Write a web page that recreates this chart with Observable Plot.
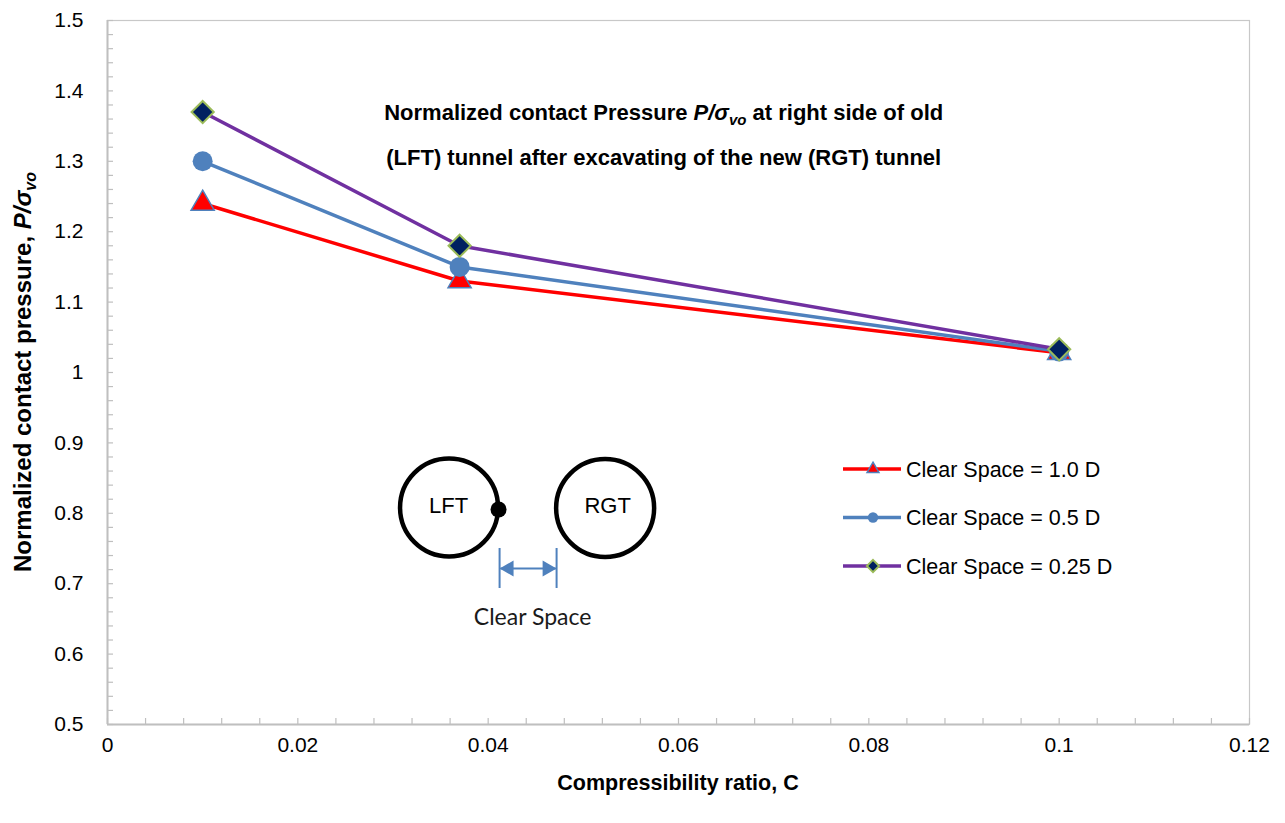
<!DOCTYPE html>
<html>
<head>
<meta charset="utf-8">
<script src="https://cdn.jsdelivr.net/npm/d3@7"></script>
<script src="https://cdn.jsdelivr.net/npm/@observablehq/plot@0.6"></script>
<style>
  body { margin: 0; background: #fff; }
  #chart { position: relative; width: 1285px; height: 823px; }
</style>
</head>
<body>
<div id="chart"></div>
<script>
// ---------------- data ----------------
const compressibility = [0.01, 0.037, 0.1];
const seriesNames = ["Clear Space = 1.0 D", "Clear Space = 0.5 D", "Clear Space = 0.25 D"];
const pressure10D  = [1.24, 1.13, 1.028];
const pressure05D  = [1.30, 1.15, 1.030];
const pressure025D = [1.37, 1.18, 1.033];

const xTicks = [0, 0.02, 0.04, 0.06, 0.08, 0.1, 0.12];
const yTicks = [0.5, 0.6, 0.7, 0.8, 0.9, 1, 1.1, 1.2, 1.3, 1.4, 1.5];
const xMinorTicks = d3.range(0, 0.1201, 0.004);
const yMinorTicks = d3.range(0.5, 1.5001, 0.02);

const xLabel = "Compressibility ratio, C";
const yLabelMain = "Normalized contact pressure, ";
const titleLine1 = ["Normalized contact Pressure ", "P/σ", "vo", " at right side of old"];
const titleLine2 = "(LFT) tunnel after excavating of the new (RGT) tunnel";

// inset sketch annotation (data coordinates)
const tunnels = [
  {x: 0.03589, y: 0.8082, label: "LFT"},
  {x: 0.05229, y: 0.8075, label: "RGT"}
];
const tunnelLabels = [
  {x: 0.03584, y: 0.8111, label: "LFT"},
  {x: 0.05256, y: 0.8111, label: "RGT"}
];
const contactPoint = [{x: 0.04109, y: 0.8054}];
const dimensionLimits = [{x: 0.0412, y1: 0.75, y2: 0.6932}, {x: 0.04719, y1: 0.75, y2: 0.6932}];
const dimensionLine = [{x1: 0.0413, x2: 0.0471, y: 0.7216}];
const dimensionHeads = [{x: 0.04218, y: 0.7216, rot: -90}, {x: 0.04621, y: 0.7216, rot: 90}];
const dimensionText = [{x: 0.04467, y: 0.652, label: "Clear Space"}];
const titlePos = {x: 0.0585, y1: 1.358, y2: 1.294};

// ---------------- build ----------------
const rows = (vals, name) => compressibility.map((c, i) => ({c, p: vals[i], series: name}));
const series = [
  {data: rows(pressure10D, seriesNames[0]), line: "#ff0000", symbol: "triangle", r: 8.6, fill: "#ff0000", stroke: "#4f81bd", sw: 1.5, lr: 4.4},
  {data: rows(pressure05D, seriesNames[1]), line: "#4f81bd", symbol: "circle", r: 10, fill: "#4f81bd", stroke: "#4f81bd", sw: 0, lr: 5.2},
  {data: rows(pressure025D, seriesNames[2]), line: "#7030a0", symbol: "diamond2", r: 10, fill: "#002060", stroke: "#9bbb59", sw: 2, lr: 5.5}
];

const FONT = "'Liberation Sans', Arial, Helvetica, sans-serif";
const axisGray = "#bfbfbf";

const marks = [
  Plot.frame({stroke: "#c8c8c8", strokeWidth: 1.2}),
  Plot.ruleX([0], {stroke: axisGray, strokeWidth: 2}),
  Plot.ruleY([0.5], {stroke: axisGray, strokeWidth: 2}),
  Plot.tickX(xMinorTicks, {x: d => d, stroke: axisGray, strokeWidth: 1.2, insetTop: 698}),
  Plot.tickY(yMinorTicks, {y: d => d, stroke: axisGray, strokeWidth: 1.2, insetRight: 1136}),
  Plot.axisX(xTicks, {tickSize: 0, tickPadding: 13, tickFormat: d => String(d), label: null, fontSize: 21}),
  Plot.axisY(yTicks, {tickSize: 0, tickPadding: 24, tickFormat: d => String(d), label: null, fontSize: 21}),
  // inset sketch
  Plot.dot(tunnels, {x: "x", y: "y", r: 49, fill: "none", stroke: "#000", strokeWidth: 4.5}),
  Plot.text(tunnelLabels, {x: "x", y: "y", text: "label", fontSize: 22, fill: "#000"}),
  Plot.dot(contactPoint, {x: "x", y: "y", r: 8, fill: "#000"}),
  Plot.ruleX(dimensionLimits, {x: "x", y1: "y1", y2: "y2", stroke: "#4f81bd", strokeWidth: 2}),
  Plot.link(dimensionLine, {x1: "x1", x2: "x2", y1: "y", y2: "y", stroke: "#4f81bd", strokeWidth: 2}),
  Plot.dot(dimensionHeads, {x: "x", y: "y", symbol: "triangle", rotate: "rot", r: 6, fill: "#4f81bd"}),
  Plot.text(dimensionText, {x: "x", y: "y", text: "label", fontSize: 23, fontFamily: "Lato, 'Open Sans', sans-serif", fill: "#1a1a1a"})
];
for (const s of series) {
  marks.push(Plot.line(s.data, {x: "c", y: "p", stroke: s.line, strokeWidth: 3.5}));
  marks.push(Plot.dot(s.data, {x: "c", y: "p", symbol: s.symbol, r: s.r, fill: s.fill, stroke: s.stroke, strokeWidth: s.sw}));
}

const chart = Plot.plot({
  width: 1285,
  height: 823,
  marginLeft: 107,
  marginRight: 36,
  marginTop: 20,
  marginBottom: 99,
  x: {domain: [0, 0.12]},
  y: {domain: [0.5, 1.5]},
  style: {fontFamily: FONT, fontSize: "21px", color: "#000", background: "#fff"},
  marks
});
document.getElementById("chart").appendChild(chart);

// ---------------- rich text: title, axis labels, legend ----------------
const svg = d3.select(chart);
const sx = chart.scale("x"), sy = chart.scale("y");

const title = svg.append("text")
  .attr("x", sx.apply(titlePos.x)).attr("y", sy.apply(titlePos.y1))
  .attr("text-anchor", "middle").attr("font-family", FONT).attr("font-weight", "bold").attr("font-size", 22).attr("fill", "#000");
title.append("tspan").text(titleLine1[0]);
title.append("tspan").attr("font-style", "italic").text(titleLine1[1]);
title.append("tspan").attr("font-style", "italic").attr("font-size", 15).attr("dy", 5).text(titleLine1[2]);
title.append("tspan").attr("dy", -5).text(titleLine1[3]);
svg.append("text")
  .attr("x", sx.apply(titlePos.x)).attr("y", sy.apply(titlePos.y2))
  .attr("text-anchor", "middle").attr("font-family", FONT).attr("font-weight", "bold").attr("font-size", 22).attr("fill", "#000")
  .text(titleLine2);

const [x0, x1] = sx.range, [y0, y1] = sy.range;
svg.append("text")
  .attr("x", (x0 + x1) / 2).attr("y", 790)
  .attr("text-anchor", "middle").attr("font-family", FONT).attr("font-weight", "bold").attr("font-size", 21.5).attr("fill", "#000")
  .text(xLabel);

const yl = svg.append("text")
  .attr("transform", `translate(31,${(y0 + y1) / 2}) rotate(-90)`)
  .attr("text-anchor", "middle").attr("font-family", FONT).attr("font-weight", "bold").attr("font-size", 24).attr("fill", "#000");
yl.append("tspan").text(yLabelMain);
yl.append("tspan").attr("font-style", "italic").text("P/σ");
yl.append("tspan").attr("font-style", "italic").attr("font-size", 16).attr("dy", 5).text("vo");

// legend
const lg = svg.append("g").attr("transform", "translate(843,469)");
series.forEach((s, i) => {
  const g = lg.append("g").attr("transform", `translate(0,${i * 48.5})`);
  g.append("line").attr("x1", 0).attr("x2", 58).attr("y1", 0).attr("y2", 0).attr("stroke", s.line).attr("stroke-width", 3.5);
  const symType = s.symbol === "triangle" ? d3.symbolTriangle : s.symbol === "circle" ? d3.symbolCircle : d3.symbolDiamond2;
  g.append("path").attr("transform", "translate(30,0)")
    .attr("d", d3.symbol(symType, Math.PI * s.lr * s.lr)())
    .attr("fill", s.fill).attr("stroke", s.stroke).attr("stroke-width", s.sw);
  g.append("text").attr("x", 63).attr("y", 7.5).attr("text-anchor", "start")
    .attr("font-family", FONT).attr("font-size", 21.5).attr("fill", "#000").text(seriesNames[i]);
});
</script>
</body>
</html>
